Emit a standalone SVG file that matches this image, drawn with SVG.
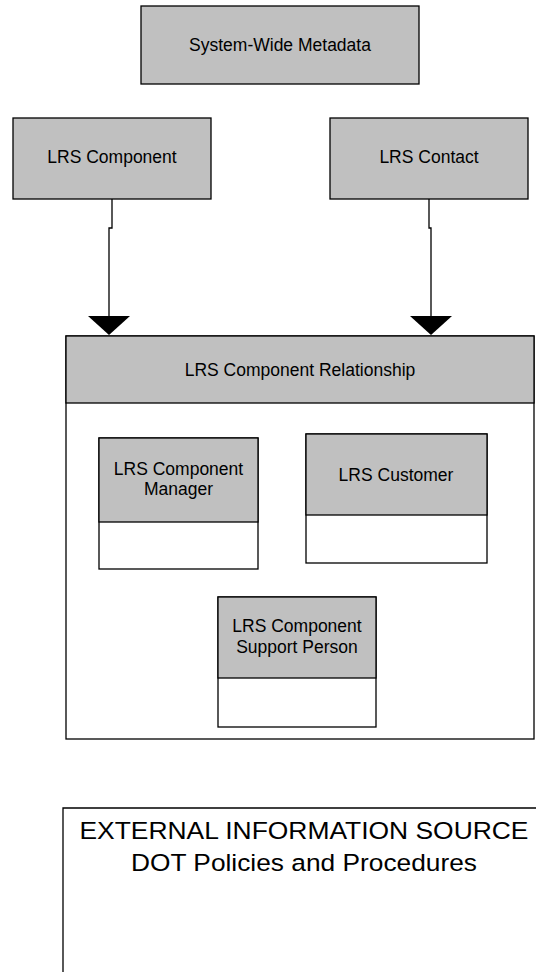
<svg xmlns="http://www.w3.org/2000/svg" width="536" height="972" viewBox="0 0 536 972">
<style>
.box{fill:#c0c0c0;stroke:#000;stroke-width:1.3}
.wbox{fill:#fff;stroke:#000;stroke-width:1.3}
.line{fill:none;stroke:#000;stroke-width:1.3}
.t{font-family:"Liberation Sans",Arial,sans-serif;font-size:17.5px;fill:#000;text-anchor:middle}
.big{font-family:"Liberation Sans",Arial,sans-serif;font-size:24.5px;fill:#000;text-anchor:middle}
</style>
<defs>
<marker id="arrow" markerUnits="userSpaceOnUse" markerWidth="20" markerHeight="42" refX="0" refY="21" orient="auto" viewBox="0 0 20 42">
<path d="M0,0 L19,21 L0,42 Z" fill="#000"/>
</marker>
</defs>
<rect width="536" height="972" fill="#fff"/>
<g id="system-wide-metadata">
<rect class="box" x="141" y="6" width="278" height="78"/>
<text class="t" x="280" y="51">System-Wide Metadata</text>
</g>
<g id="lrs-component">
<rect class="box" x="13" y="118" width="198" height="81"/>
<text class="t" x="112" y="163">LRS Component</text>
</g>
<g id="lrs-contact">
<rect class="box" x="330" y="118" width="198" height="81"/>
<text class="t" x="429" y="163">LRS Contact</text>
</g>
<g id="lrs-component-relationship">
<rect class="wbox" x="66" y="336" width="468" height="403"/>
<rect class="box" x="66" y="336" width="468" height="67"/>
<text class="t" x="300" y="376">LRS Component Relationship</text>
</g>
<g id="lrs-component-manager">
<rect class="wbox" x="99" y="438" width="159" height="131"/>
<rect class="box" x="99" y="438" width="159" height="84"/>
<text class="t" x="178.5" y="475">LRS Component</text>
<text class="t" x="178.5" y="495">Manager</text>
</g>
<g id="lrs-customer">
<rect class="wbox" x="306" y="434" width="181" height="129"/>
<rect class="box" x="306" y="434" width="181" height="81"/>
<text class="t" x="396" y="481">LRS Customer</text>
</g>
<g id="lrs-component-support-person">
<rect class="wbox" x="218" y="597" width="158" height="130"/>
<rect class="box" x="218" y="597" width="158" height="81"/>
<text class="t" x="297" y="632">LRS Component</text>
<text class="t" x="297" y="653">Support Person</text>
</g>
<g id="external-information-source">
<path class="line" d="M63,972 L63,808 L540,808"/>
<text class="big" x="304" y="839" textLength="449" lengthAdjust="spacingAndGlyphs">EXTERNAL INFORMATION SOURCE</text>
<text class="big" x="304" y="871" textLength="346" lengthAdjust="spacingAndGlyphs">DOT Policies and Procedures</text>
</g>
<g id="connectors">
<path class="line" d="M112,199 L112,228 L109,228 L109,316" marker-end="url(#arrow)"/>
<path class="line" d="M429,199 L429,228 L431,228 L431,316" marker-end="url(#arrow)"/>
</g>
</svg>
